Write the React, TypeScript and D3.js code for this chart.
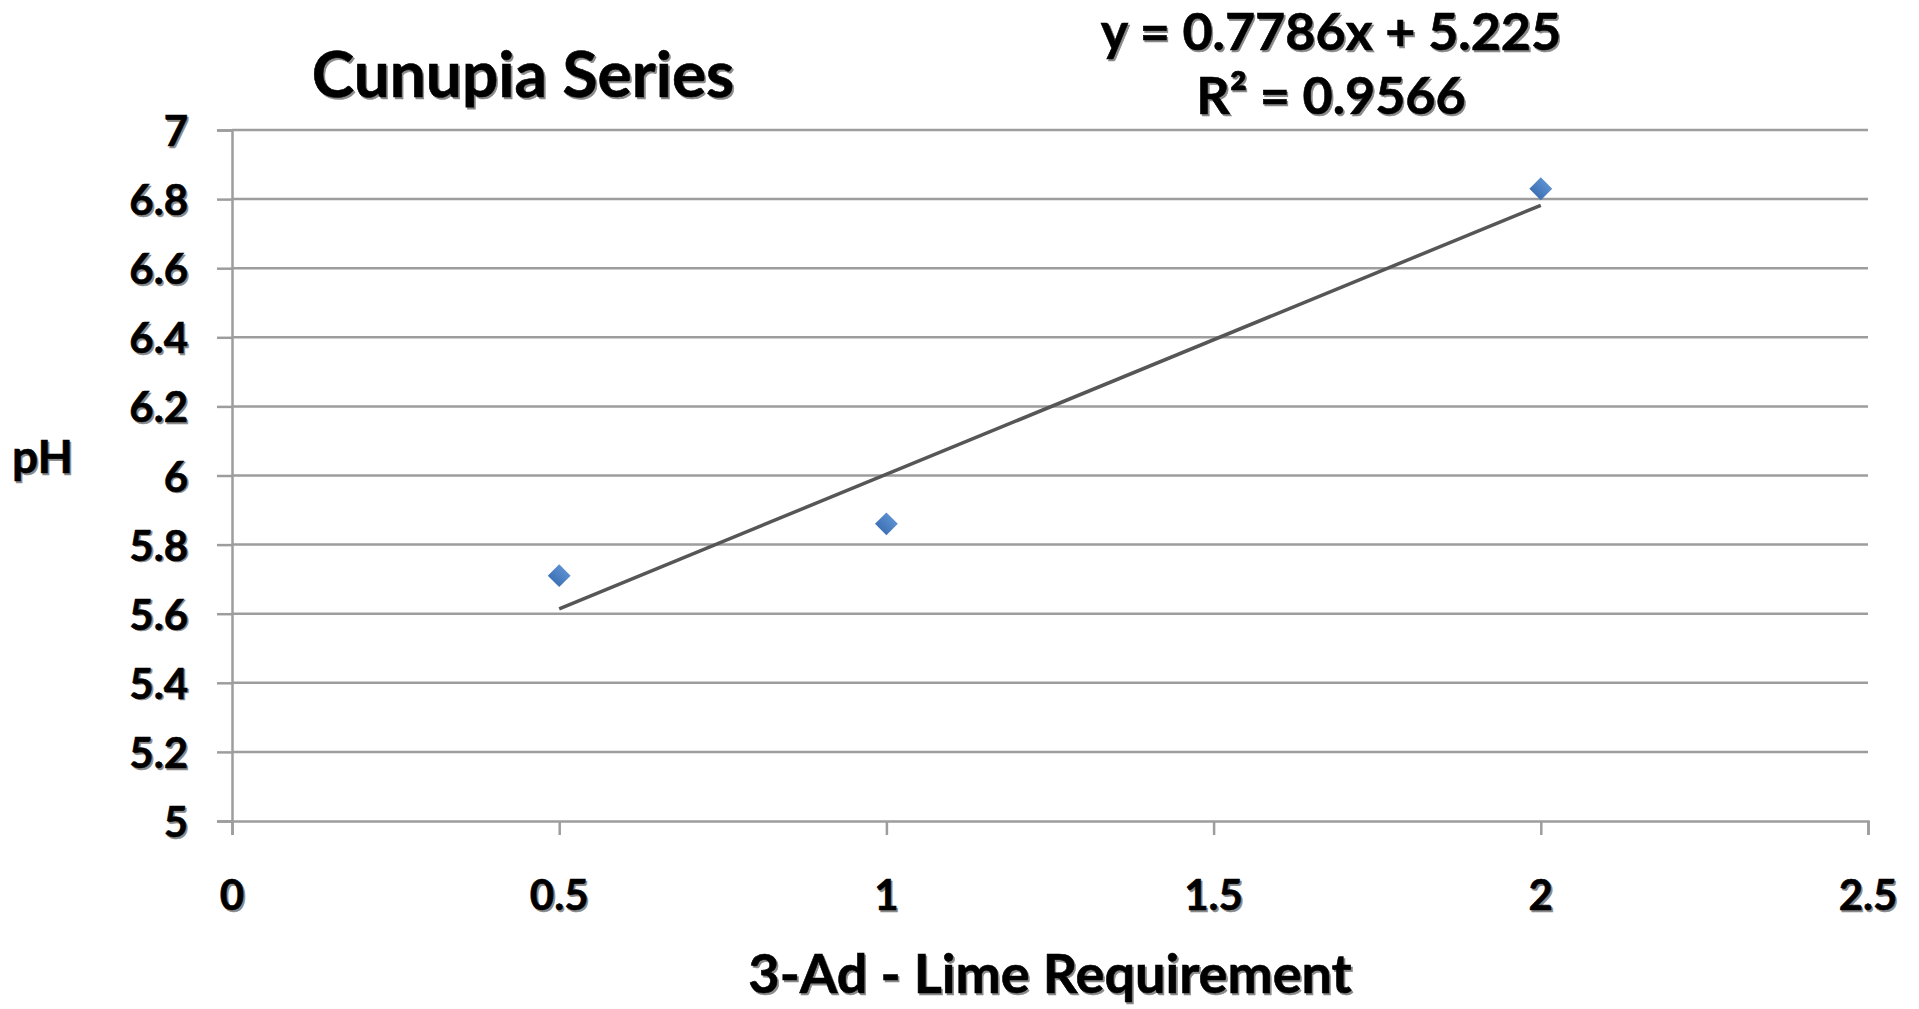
import { useEffect, useRef } from 'react'
import * as d3 from 'd3'

const limeReq = [0.5, 1, 2]
const phValues = [5.71, 5.86, 6.83]
const xTicks = [0, 0.5, 1, 1.5, 2, 2.5]
const yTicks = [5, 5.2, 5.4, 5.6, 5.8, 6, 6.2, 6.4, 6.6, 6.8, 7]
const chartTitle = 'Cunupia Series'
const xTitle = '3-Ad - Lime Requirement'
const yTitle = 'pH'
const eqLines = ['y = 0.7786x + 5.225', 'R² = 0.9566']

const W = 1919
const H = 1009
const FONT = 'Lato, "Open Sans", sans-serif'

export default function App() {
  const svgRef = useRef<SVGSVGElement>(null)

  useEffect(() => {
    if (!svgRef.current) return
    const svg = d3.select(svgRef.current)
    svg.selectAll('*').remove()

    const margin = { top: 130, right: 51, bottom: 188, left: 232 }
    const innerW = W - margin.left - margin.right
    const innerH = H - margin.top - margin.bottom

    const x = d3.scaleLinear().domain([0, 2.5]).range([0, innerW])
    const y = d3.scaleLinear().domain([5, 7]).range([innerH, 0])

    const g = svg.append('g').attr('transform', `translate(${margin.left},${margin.top})`)

    // text with the soft grey shadow Excel leaves behind
    const shadowText = (parent: any, tx: number, ty: number, str: string, size: number, anchor: string, baseline = 'auto') => {
      const grp = parent.append('g')
      ;[['#8a8a8a', 1.6], ['#000', 0]].forEach(([fill, off]) => {
        grp.append('text')
          .attr('x', tx + (off as number)).attr('y', ty + (off as number))
          .attr('fill', fill as string)
          .attr('font-family', FONT).attr('font-weight', 700)
          .attr('font-size', size)
          .attr('text-anchor', anchor)
          .attr('dominant-baseline', baseline)
          .attr('stroke', fill as string).attr('stroke-width', 0.6)
          .text(str)
      })
    }

    // gridlines
    g.append('g').selectAll('line').data(yTicks.slice(1)).join('line')
      .attr('x1', 0).attr('x2', innerW)
      .attr('y1', d => y(d)).attr('y2', d => y(d))
      .attr('stroke', '#9d9d9d').attr('stroke-width', 2.5)

    // y axis
    const yAxis = g.append('g').call(d3.axisLeft(y).tickValues(yTicks).tickSize(15).tickPadding(29).tickFormat(d => `${d}`))
    // x axis
    const xAxis = g.append('g').attr('transform', `translate(0,${innerH})`)
      .call(d3.axisBottom(x).tickValues(xTicks).tickSize(14).tickPadding(0).tickFormat(d => `${d}`))

    ;[yAxis, xAxis].forEach(ax => {
      ax.select('.domain').attr('stroke', '#9d9d9d').attr('stroke-width', 2.5)
      ax.selectAll('.tick line').attr('stroke', '#9d9d9d').attr('stroke-width', 2.5)
      ax.selectAll('.tick text').remove()
    })

    yTicks.forEach(t => shadowText(g, -44, y(t), `${t}`, 42, 'end', 'central'))
    xTicks.forEach(t => shadowText(g, x(t), innerH + 89, `${t}`, 42, 'middle'))

    // trendline from the least squares fit
    const mx = d3.mean(limeReq) as number
    const my = d3.mean(phValues) as number
    const sxy = d3.sum(limeReq.map((v, i) => (v - mx) * (phValues[i] - my)))
    const sxx = d3.sum(limeReq.map(v => (v - mx) ** 2))
    const slope = sxy / sxx
    const icpt = my - slope * mx
    const ext = d3.extent(limeReq) as [number, number]
    const line = d3.line<number>().x(d => x(d)).y(d => y(slope * d + icpt))
    g.append('path').datum(ext).attr('d', line)
      .attr('fill', 'none').attr('stroke', '#565656').attr('stroke-width', 3.5)

    // markers
    const defs = svg.append('defs')
    const grad = defs.append('linearGradient').attr('id', 'mk').attr('x1', 0).attr('y1', 0).attr('x2', 0).attr('y2', 1)
    grad.append('stop').attr('offset', '0%').attr('stop-color', '#5b8fd0')
    grad.append('stop').attr('offset', '100%').attr('stop-color', '#3f72b5')
    const sym = d3.symbol().type(d3.symbolSquare).size(260)
    g.append('g').selectAll('path').data(limeReq).join('path')
      .attr('d', sym())
      .attr('transform', (d, i) => `translate(${x(d)},${y(phValues[i])}) rotate(45)`)
      .attr('fill', 'url(#mk)')

    // titles
    shadowText(svg, 523, 97, chartTitle, 64, 'middle')
    shadowText(svg, 1331, 50, eqLines[0], 52, 'middle')
    shadowText(svg, 1331, 114, eqLines[1], 52, 'middle')
    shadowText(svg, margin.left + innerW / 2, 993, xTitle, 54, 'middle')
    shadowText(svg, 12, 473, yTitle, 46, 'start')
  }, [])

  return (
    <svg ref={svgRef} width={W} height={H}
      style={{ position: 'absolute', left: 0, top: 0, background: '#fff', display: 'block' }} />
  )
}
